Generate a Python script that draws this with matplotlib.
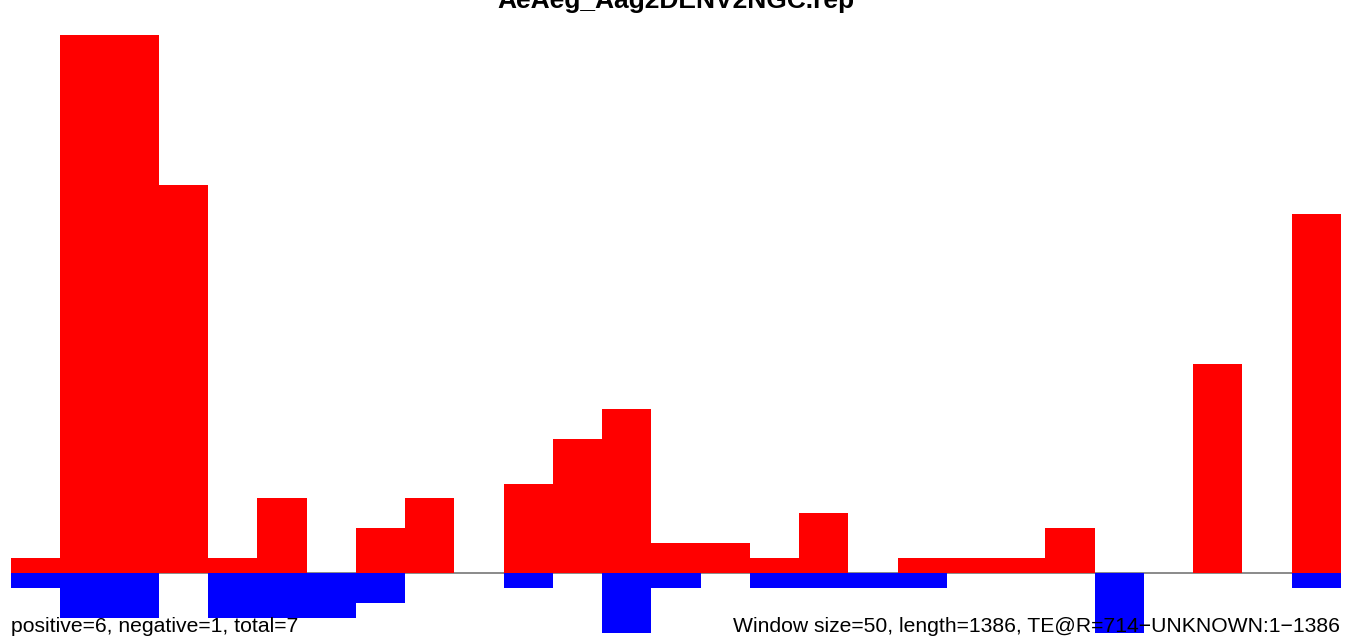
import numpy as np
import matplotlib.pyplot as plt

plt.rcParams['font.family'] = ['Liberation Sans', 'DejaVu Sans']

window = 50
length = 1386
# counts per 50 bp window (27 windows shown)
positive = [1, 36, 36, 26, 1, 5, 0, 3, 5, 0, 6, 9, 11, 2, 2, 1, 4, 0, 1, 1, 1, 3, 0, 0, 14, 0, 24]
negative = [1, 3, 3, 0, 3, 3, 3, 2, 0, 0, 1, 0, 4, 1, 0, 1, 1, 1, 1, 0, 0, 0, 4, 0, 0, 0, 1]

title = "AeAeg_Aag2DENV2NGC.rep"
left_note = "positive=6, negative=1, total=7"
right_note = "Window size=50, length=1386, TE@R=714\u2212UNKNOWN:1\u22121386"

W, H = 1366, 639
fig = plt.figure(figsize=(W / 100, H / 100), dpi=100)
ax = fig.add_axes([11 / W, (H - 633) / H, 1330 / W, 598 / H])

starts = np.arange(len(positive)) * window
ax.bar(starts, positive, width=window, align='edge', color='#ff0000', linewidth=0)
ax.bar(starts, -np.array(negative), width=window, align='edge', color='#0000ff', linewidth=0)
ax.axhline(0, color='#777777', linewidth=1.2, zorder=0)

ax.set_xlim(0, len(positive) * window)
ax.set_ylim(-4, 36)
ax.axis('off')

fig.text(676 / W, 1 - 8 / H, title, ha='center', va='baseline',
         fontsize=19, fontweight='bold')
fig.text(11 / W, 1 - 632 / H, left_note, ha='left', va='baseline', fontsize=15.2)
fig.text(1340 / W, 1 - 632 / H, right_note, ha='right', va='baseline', fontsize=15.2)

fig.savefig('out.png', dpi=100)
